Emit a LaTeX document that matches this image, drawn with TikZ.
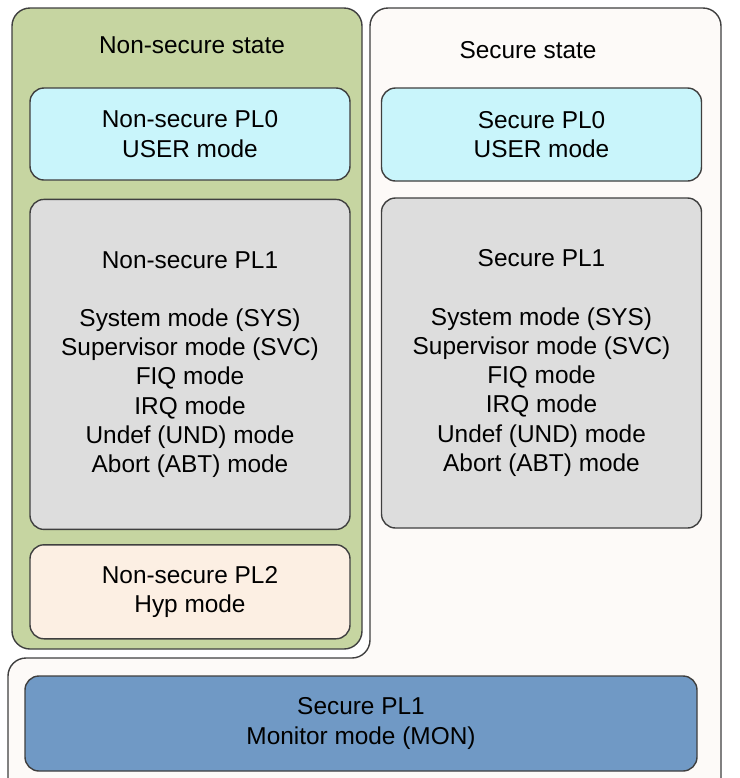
\documentclass[tikz,border=0pt]{standalone}
\usepackage{fontspec}
\setmainfont{Liberation Sans}
\usepackage{xcolor}
\usetikzlibrary{positioning}

\definecolor{nsgreen}{HTML}{C6D5A1}
\definecolor{usercyan}{HTML}{C9F5FB}
\definecolor{plgray}{HTML}{DDDDDD}
\definecolor{hyppeach}{HTML}{FCEFE3}
\definecolor{monblue}{HTML}{7099C5}
\definecolor{secwhite}{HTML}{FDFAF8}
\definecolor{edgegray}{HTML}{3F3F3F}

\begin{document}
\begin{tikzpicture}[x=0.5pt,y=-0.5pt,
  font=\fontsize{12.2pt}{14.6pt}\selectfont,
  region/.style={draw=edgegray,line width=0.7pt,rounded corners=9pt},
  mode/.style={draw=edgegray,line width=0.7pt,rounded corners=7pt,align=center,
    inner sep=0pt,minimum width=160pt},
  title/.style={inner sep=0pt}]
\useasboundingbox (0,0) rectangle (740,778);
% secure state outline
\draw[region,fill=secwhite] (370,8) -- (721,8) -- (721,820) -- (8,820)
  -- (8,658) -- (370,658) -- cycle;
% non-secure state
\node[region,fill=nsgreen,minimum width=175pt,minimum height=320.5pt] (ns) at (187,328.5) {};
\node[title] (nstitle) at (192,45) {Non-secure state};
\node[mode,fill=usercyan,minimum height=46pt] (nspl0) at (190,134) {Non-secure PL0\\USER mode};
\node[mode,fill=plgray,minimum height=165pt,below=9pt of nspl0] (nspl1)
  {Non-secure PL1\\[14.6pt]System mode (SYS)\\Supervisor mode (SVC)\\FIQ mode\\IRQ mode\\Undef (UND) mode\\Abort (ABT) mode};
\node[mode,fill=hyppeach,minimum height=47pt,below=7pt of nspl1] (nspl2) {Non-secure PL2\\Hyp mode};
% secure state
\node[title] (stitle) at (528,50) {Secure state};
\node[mode,fill=usercyan,minimum height=46.5pt] (spl0) at (541.5,134.5) {Secure PL0\\USER mode};
\node[mode,fill=plgray,minimum height=165pt] (spl1) at (541.5,363)
  {Secure PL1\\[14.6pt]System mode (SYS)\\Supervisor mode (SVC)\\FIQ mode\\IRQ mode\\Undef (UND) mode\\Abort (ABT) mode};
\node[mode,fill=monblue,minimum width=336pt,minimum height=47.5pt] (mon) at (361,723.5) {Secure PL1\\Monitor mode (MON)};
\end{tikzpicture}
\end{document}
